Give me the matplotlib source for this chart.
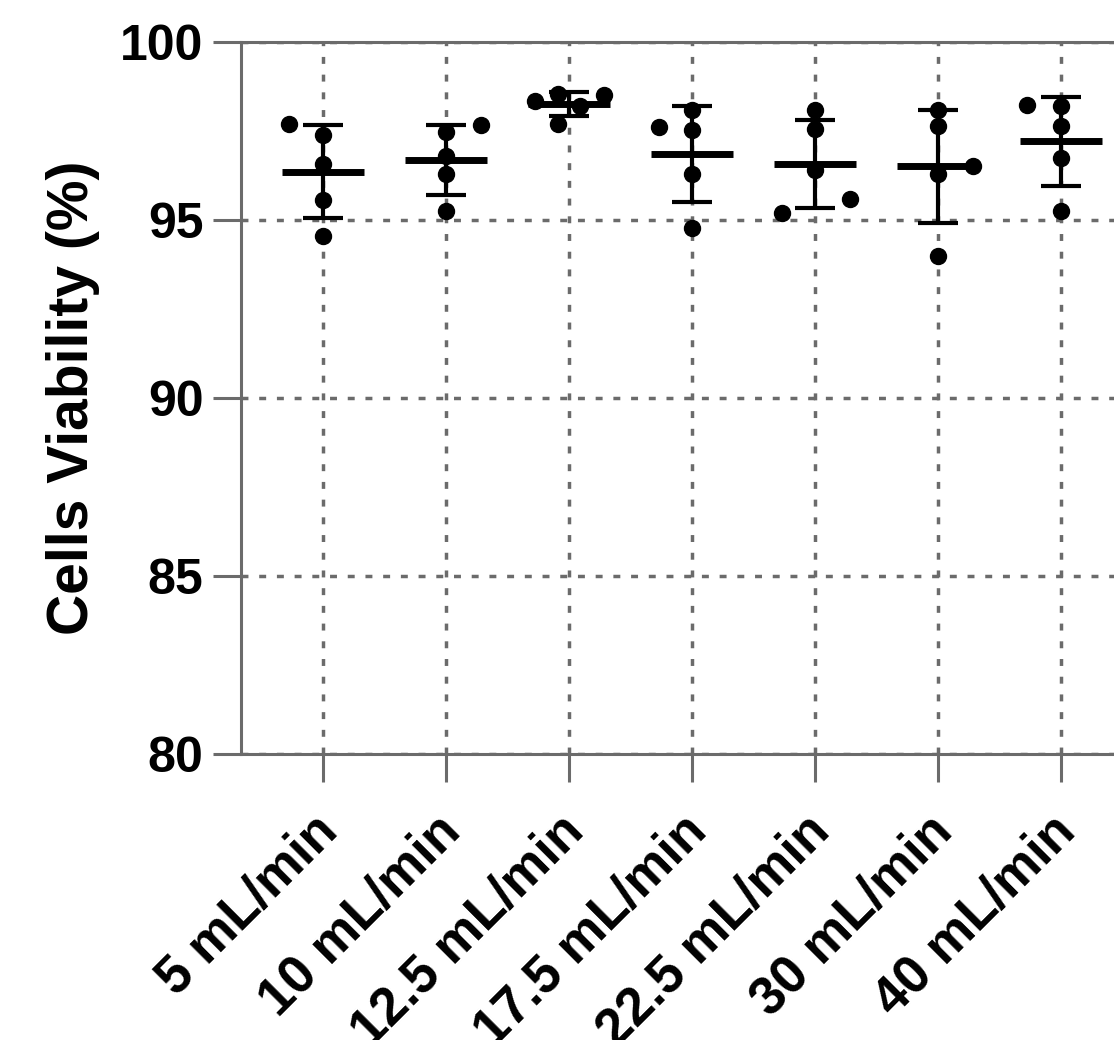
import numpy as np
import matplotlib
matplotlib.use("Agg")
import matplotlib.pyplot as plt
import matplotlib.transforms as mtransforms

# flow rates and viability readings (%), five replicates each
categories = ["5 mL/min", "10 mL/min", "12.5 mL/min", "17.5 mL/min",
              "22.5 mL/min", "30 mL/min", "40 mL/min"]
v5 = [97.71, 97.38, 96.58, 95.55, 94.56]
v10 = [97.47, 97.68, 96.79, 96.28, 95.25]
v12 = [98.34, 98.55, 98.20, 98.51, 97.71]
v17 = [98.10, 97.52, 97.61, 96.28, 94.78]
v22 = [98.10, 97.56, 96.41, 95.19, 95.60]
v30 = [98.10, 97.65, 96.28, 96.51, 94.00]
v40 = [98.23, 98.20, 97.64, 96.75, 95.25]
groups = [v5, v10, v12, v17, v22, v30, v40]

# sideways nudge of overlapping dots (category units)
nudge = [[-0.28, 0, 0, 0, 0],
         [0, 0.28, 0, 0, 0],
         [-0.28, -0.09, 0.09, 0.28, -0.09],
         [0, 0, -0.27, 0, 0],
         [0, 0, 0, -0.27, 0.28],
         [0, 0, 0, 0.28, 0],
         [-0.28, 0, 0, 0, 0]]

yticks = [80, 85, 90, 95, 100]

plt.rcParams['font.family'] = ['Liberation Sans', 'DejaVu Sans']
plt.rcParams['font.weight'] = 'bold'
gray = '#6b6b6b'

fig = plt.figure(figsize=(11.14, 10.4), dpi=100)
ax = fig.add_axes([0.2163, 0.275, 0.810, 0.6846])

for i, vals in enumerate(groups):
    vals = np.array(vals)
    xs = i + np.array(nudge[i])
    ax.plot(xs, vals, 'o', color='black', ms=11.5, zorder=3)
    m, sd = vals.mean(), vals.std(ddof=1)
    ax.errorbar(i, m, yerr=sd, fmt='none', ecolor='black', elinewidth=3,
                capsize=14.4, capthick=3, zorder=4)
    ax.hlines(m, i - 0.333, i + 0.333, color='black', lw=5, zorder=4)

ax.set_xlim(-0.667, 6.667)
ax.set_ylim(80, 100)
ax.set_yticks(yticks)
ax.set_xticks(range(len(categories)))

ax.grid(True, color=gray, lw=2.5, linestyle=(0, (2, 3.1)), zorder=0)
ax.set_axisbelow(True)
for s in ax.spines.values():
    s.set_color(gray)
    s.set_linewidth(2.2)
ax.tick_params(axis='both', length=20, width=2.2, color=gray)
ax.tick_params(axis='y', pad=7)
ax.tick_params(axis='x', pad=30)

ax.set_xticklabels(categories, rotation=45, ha='right', va='center',
                   rotation_mode='anchor', fontsize=38, fontweight='bold')
ax.set_yticklabels([str(t) for t in yticks], fontsize=36, fontweight='bold')

# nudge the slanted labels a little to the right (after tick_params,
# which would reset the transform)
shift = mtransforms.ScaledTranslation(7 / 100, 0, fig.dpi_scale_trans)
for lab in ax.get_xticklabels():
    lab.set_transform(lab.get_transform() + shift)

ax.set_ylabel("Cells Viability (%)", fontsize=41, fontweight='bold')
ax.yaxis.set_label_coords(-0.156, 0.5)

fig.savefig("out.png", dpi=100)
